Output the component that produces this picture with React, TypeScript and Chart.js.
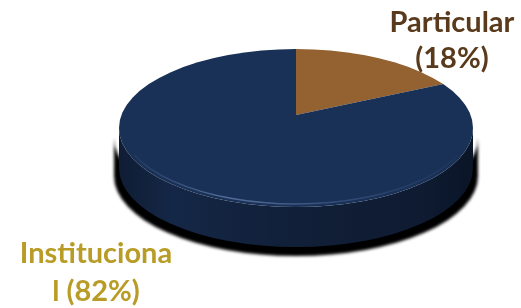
import React, { useEffect, useRef } from "react";
import { Chart, registerables } from "chart.js";

Chart.register(...registerables);

const categories = ["Particular", "Institucional"];
const values = [18, 82];
const labelLines = [["Particular", "(18%)"], ["Instituciona", "l (82%)"]];
const sliceColors = ["#946130", "#1a3157"];
const labelColors = ["#5a3a1c", "#b89c26"];

const CX = 296, CY = 128, RX = 177, RY = 79, DEPTH = 40;
const APEX_Y = 115, FACE_RY = 96;

const pie3d = {
  id: "pie3d",
  beforeDatasetsDraw(chart: any) {
    const ctx = chart.ctx;
    const meta = chart.getDatasetMeta(0);
    const arc = meta.data[0];
    const px = arc.x, py = arc.y, R = arc.outerRadius;
    // shadow
    ctx.save();
    ctx.filter = "blur(1.5px)";
    ctx.fillStyle = "#000";
    ctx.beginPath();
    const sy = CY + 10, srx = RX + 5;
    ctx.moveTo(CX + srx, sy);
    ctx.ellipse(CX, sy, srx, RY + 1, 0, 0, Math.PI, false);
    ctx.lineTo(CX - srx, sy + DEPTH);
    ctx.ellipse(CX, sy + DEPTH - 2, srx, RY + 1, 0, Math.PI, 0, true);
    ctx.closePath();
    ctx.fill();
    ctx.restore();
    // side
    ctx.save();
    const g = ctx.createLinearGradient(CX - RX, 0, CX + RX, 0);
    g.addColorStop(0, "#0f1d34");
    g.addColorStop(0.15, "#142746");
    g.addColorStop(0.5, "#111f38");
    g.addColorStop(0.85, "#0e1b31");
    g.addColorStop(1, "#0a1527");
    ctx.fillStyle = g;
    ctx.beginPath();
    ctx.moveTo(CX + RX, CY);
    ctx.ellipse(CX, CY, RX, RY, 0, 0, Math.PI, false);
    ctx.lineTo(CX - RX, CY + DEPTH);
    ctx.ellipse(CX, CY + DEPTH, RX, RY, 0, Math.PI, 0, true);
    ctx.closePath();
    ctx.fill();
    ctx.restore();
    // top face: clip to ellipse, perspective-like center
    ctx.save();
    ctx.beginPath();
    ctx.ellipse(CX, CY, RX, RY, 0, 0, Math.PI * 2);
    ctx.clip();
    const fx = FACE_RY * RX / RY;
    ctx.translate(CX, APEX_Y);
    ctx.scale(fx / R, FACE_RY / R);
    ctx.translate(-px, -py);
  },
  afterDatasetsDraw(chart: any) {
    const ctx = chart.ctx;
    ctx.restore();
    // rim highlight (soft bevel)
    ctx.save();
    const g = ctx.createLinearGradient(CX - RX, 0, CX + RX, 0);
    g.addColorStop(0, "rgba(120,150,200,0)");
    g.addColorStop(0.3, "rgba(130,160,210,0.55)");
    g.addColorStop(0.6, "rgba(120,150,200,0.3)");
    g.addColorStop(1, "rgba(120,150,200,0)");
    ctx.strokeStyle = g;
    ctx.lineWidth = 1.5;
    ctx.filter = "blur(0.6px)";
    ctx.beginPath();
    ctx.ellipse(CX, CY - 2, RX - 3, RY - 1, 0, 0.12 * Math.PI, 0.88 * Math.PI, false);
    ctx.stroke();
    ctx.restore();
  },
  afterDraw(chart: any) {
    const ctx = chart.ctx;
    ctx.save();
    ctx.font = "bold 29px Lato";
    ctx.textAlign = "center";
    ctx.textBaseline = "alphabetic";
    const pos = [
      { x: 452, y: 32, lh: 36 },
      { x: 96, y: 263, lh: 38 },
    ];
    labelLines.forEach((lines, i) => {
      ctx.fillStyle = labelColors[i];
      lines.forEach((t, j) => {
        ctx.fillText(t, pos[i].x, pos[i].y + j * pos[i].lh);
      });
    });
    ctx.restore();
  },
};

export default function App() {
  const ref = useRef<HTMLCanvasElement>(null);
  useEffect(() => {
    if (!ref.current) return;
    const chart = new Chart(ref.current, {
      type: "pie",
      data: {
        labels: categories,
        datasets: [
          {
            data: values,
            backgroundColor: sliceColors,
            borderWidth: 0,
          },
        ],
      },
      options: {
        responsive: false,
        animation: false,
        events: [],
        layout: { padding: 0 },
        plugins: { legend: { display: false }, tooltip: { enabled: false } },
      },
      plugins: [pie3d],
    });
    return () => chart.destroy();
  }, []);
  return (
    <div style={{ position: "absolute", left: 0, top: 0, width: 521, height: 308, background: "#fff" }}>
      <canvas ref={ref} width={521} height={308} style={{ display: "block" }} />
    </div>
  );
}
